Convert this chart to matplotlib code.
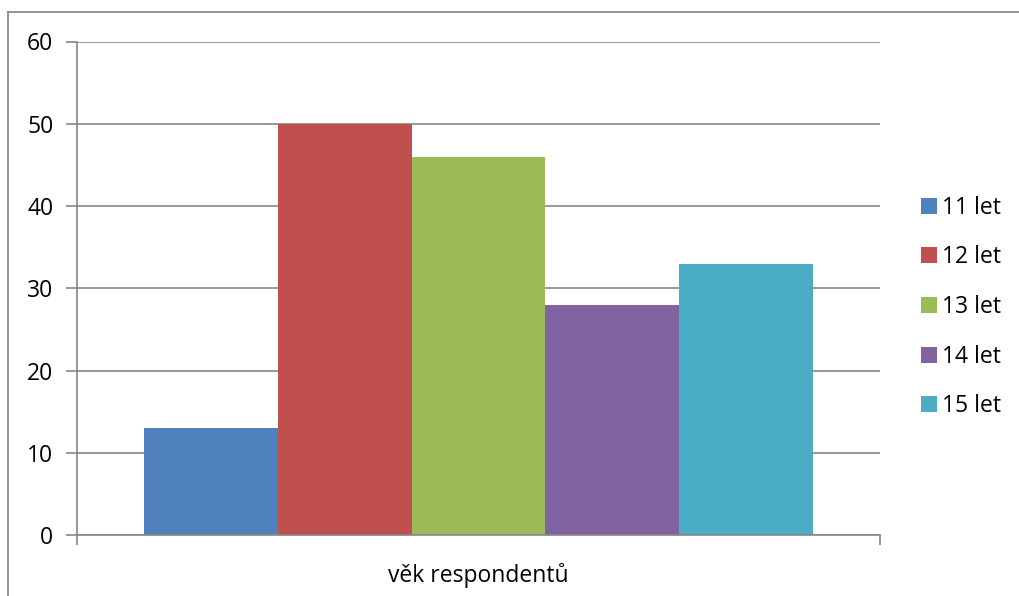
import matplotlib
matplotlib.use("Agg")
import matplotlib.pyplot as plt
from matplotlib.patches import Patch
from matplotlib.lines import Line2D

categories = ["věk respondentů"]
series_labels = ["11 let", "12 let", "13 let", "14 let", "15 let"]
series_values = [13, 50, 46, 28, 33]
colors = ["#4F81BD", "#C0504D", "#9BBB59", "#8064A2", "#4BACC6"]
yticks = [0, 10, 20, 30, 40, 50, 60]

plt.rcParams['font.family'] = ['Open Sans', 'DejaVu Sans']
FS = 16.5
W, H = 1020, 596
fig = plt.figure(figsize=(W / 100, H / 100), dpi=100)

grid_c = "#868686"
ax = fig.add_axes([77 / W, 1 - 535 / H, (880 - 77) / W, (535 - 41.5) / H])

n = len(series_values)
bw = 0.832 / n
for i, (lab, v, c) in enumerate(zip(series_labels, series_values, colors)):
    ax.bar(0 + (i - (n - 1) / 2) * bw, v, width=bw, color=c, label=lab, zorder=2)

ax.set_xlim(-0.5, 0.5)
ax.set_ylim(0, 60)
ax.set_yticks(yticks)
ax.set_yticklabels([str(t) for t in yticks], fontsize=FS)
ax.yaxis.grid(True, color=grid_c, linewidth=1.2, zorder=0)
ax.set_axisbelow(True)
ax.tick_params(axis='y', length=8, width=1.2, color=grid_c, pad=9)

ax.set_xticks([0])
ax.set_xticklabels(categories, fontsize=FS)
ax.set_xticks([-0.5, 0.5], minor=True)
ax.tick_params(axis='x', which='major', length=0, pad=20)
ax.tick_params(axis='x', which='minor', length=7, width=1.2, color=grid_c)

for s in ['top', 'right']:
    ax.spines[s].set_visible(False)
for s in ['left', 'bottom']:
    ax.spines[s].set_color(grid_c)
    ax.spines[s].set_linewidth(1.2)

handles = [Patch(facecolor=c, edgecolor='none') for c in colors]
fig.legend(handles, series_labels, loc='center left', bbox_to_anchor=(921 / W, 1 - 307 / H),
           frameon=False, fontsize=FS, handlelength=0.68, handleheight=0.68,
           handletextpad=0.25, labelspacing=1.12, borderaxespad=0, borderpad=0)

# outer chart border (partially visible)
fig.add_artist(Line2D([8 / W, 8 / W], [0, 1 - 12 / H], color="#8a8a8a", linewidth=1.3,
                      transform=fig.transFigure))
fig.add_artist(Line2D([8 / W, 1], [1 - 12 / H, 1 - 12 / H], color="#8a8a8a", linewidth=1.3,
                      transform=fig.transFigure))

fig.savefig("out.png", dpi=100)
